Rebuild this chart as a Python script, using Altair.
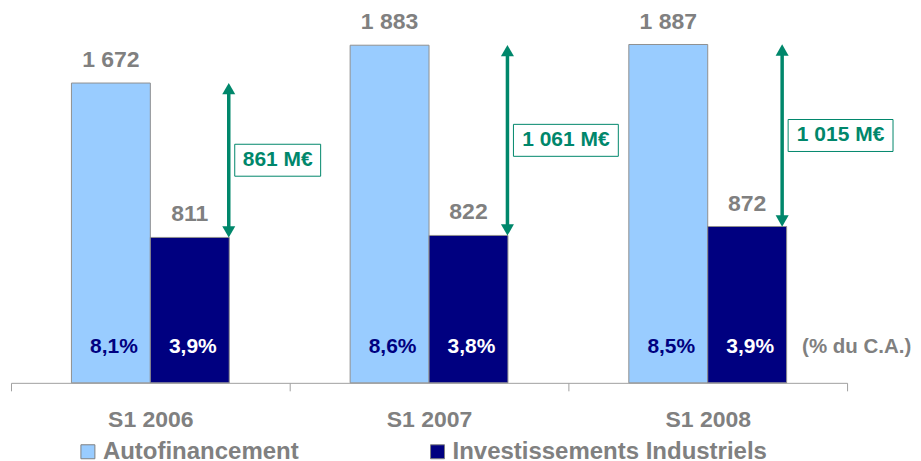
import altair as alt
import pandas as pd

# ---- data ----
groups = ["S1 2006", "S1 2007", "S1 2008"]
autofin = [1672, 1883, 1887]
invest = [811, 822, 872]
pct_autofin = ["8,1%", "8,6%", "8,5%"]
pct_invest = ["3,9%", "3,8%", "3,9%"]
gap_labels = ["861 M€", "1 061 M€", "1 015 M€"]
series_names = ["Autofinancement", "Investissements Industriels"]
unit_note = "(% du C.A.)"

# ---- styles ----
LIGHT = "#99CCFF"
NAVY = "#000080"
GREEN = "#00876B"
GRAY = "#808080"
FONT = "Liberation Sans"
box_w = [86, 105, 105]
box_h = 32
box_dy = [-7, -13, -13]
arrow_dx = [218, 218, 214]   # offset from band start (pixels)
NOTE_DX = 234

def fmt(v):
    return f"{v:,}".replace(",", " ")

rows = []
for g, a, i, pa, pi in zip(groups, autofin, invest, pct_autofin, pct_invest):
    rows.append({"group": g, "series": series_names[0], "value": a,
                 "label": fmt(a), "pct": pa})
    rows.append({"group": g, "series": series_names[1], "value": i,
                 "label": fmt(i), "pct": pi})
bars_df = pd.DataFrame(rows)

arr_rows = []
for g, a, i, lab, w, dy, adx in zip(groups, autofin, invest, gap_labels, box_w,
                                    box_dy, arrow_dx):
    h = round(box_h / w, 4)
    arr_rows.append({
        "group": g, "top": a, "bottom": i, "mid": (a + i) / 2, "gap": lab,
        "shape": f"M-1,-{h}L1,-{h}L1,{h}L-1,{h}Z",
        "size": w * w,
        "adx": adx,
        "boxoff": adx + 6 + w / 2,
        "dy": dy,
    })
arr_df = pd.DataFrame(arr_rows)

note_df = pd.DataFrame({"group": [groups[-1]], "note": [unit_note], "y": [0]})

x_enc = alt.X("group:N", sort=groups,
              scale=alt.Scale(paddingInner=0, paddingOuter=0),
              axis=alt.Axis(title=None, labelAngle=0, labelFontSize=23,
                            labelFontWeight="bold", labelColor=GRAY, labelFont=FONT,
                            domainColor="#A0A0A0", tickColor="#A0A0A0",
                            tickSize=8, tickBand="extent", labelPadding=18,
                            grid=False))
y_scale = alt.Scale(domain=[0, 2000])
xoff = alt.XOffset("series:N", sort=series_names,
                   scale=alt.Scale(paddingInner=0, paddingOuter=0.766))

base = alt.Chart(bars_df)

bars = base.mark_bar(stroke="#909090", strokeWidth=1).encode(
    x=x_enc,
    xOffset=xoff,
    y=alt.Y("value:Q", scale=y_scale, axis=None),
    color=alt.Color("series:N", sort=series_names,
                    scale=alt.Scale(domain=series_names, range=[LIGHT, NAVY]),
                    legend=alt.Legend(title=None, orient="none", direction="horizontal",
                                      legendX=65, legendY=416, padding=0,
                                      symbolType="square", symbolSize=196,
                                      symbolStrokeColor=GRAY, symbolStrokeWidth=1,
                                      labelFontSize=24, labelFontWeight="bold",
                                      labelColor=GRAY, labelFont=FONT, labelLimit=500,
                                      columnPadding=126, labelOffset=3)),
)

value_labels = base.mark_text(baseline="alphabetic", dy=-16, fontSize=23,
                              fontWeight="bold", color=GRAY, font=FONT).encode(
    x=alt.X("group:N", sort=groups),
    xOffset=xoff,
    y=alt.Y("value:Q", scale=y_scale),
    text="label:N",
)

pct_labels = base.mark_text(baseline="alphabetic", dy=-30, dx=3, fontSize=21,
                            fontWeight="bold", font=FONT).encode(
    x=alt.X("group:N", sort=groups),
    xOffset=xoff,
    y=alt.YDatum(0, scale=y_scale),
    text="pct:N",
    color=alt.Color("series:N", scale=alt.Scale(domain=series_names,
                                                range=[NAVY, "white"]),
                    legend=None),
)

abase = alt.Chart(arr_df)
arrow_line = abase.mark_rule(color=GREEN, strokeWidth=3.5, yOffset=8, y2Offset=-8).encode(
    x=alt.X("group:N", sort=groups),
    xOffset=alt.XOffset("adx:Q", scale=None),
    y=alt.Y("top:Q", scale=y_scale),
    y2="bottom:Q",
)
head_up = abase.mark_point(shape="triangle-up", filled=True, color=GREEN,
                           size=170, opacity=1, yOffset=5.5).encode(
    x=alt.X("group:N", sort=groups),
    xOffset=alt.XOffset("adx:Q", scale=None),
    y=alt.Y("top:Q", scale=y_scale),
)
head_down = abase.mark_point(shape="triangle-down", filled=True, color=GREEN,
                             size=170, opacity=1, yOffset=-5.5).encode(
    x=alt.X("group:N", sort=groups),
    xOffset=alt.XOffset("adx:Q", scale=None),
    y=alt.Y("bottom:Q", scale=y_scale),
)
boxes = abase.mark_point(filled=True, fill="white", stroke=GREEN, strokeWidth=1,
                         opacity=1).encode(
    x=alt.X("group:N", sort=groups),
    xOffset=alt.XOffset("boxoff:Q", scale=None),
    y=alt.Y("mid:Q", scale=y_scale),
    yOffset=alt.YOffset("dy:Q", scale=None),
    shape=alt.Shape("shape:N", scale=None),
    size=alt.Size("size:Q", scale=None),
)
box_text = abase.mark_text(fontSize=21, fontWeight="bold", color=GREEN, font=FONT,
                           baseline="middle", align="center").encode(
    x=alt.X("group:N", sort=groups),
    xOffset=alt.XOffset("boxoff:Q", scale=None),
    y=alt.Y("mid:Q", scale=y_scale),
    yOffset=alt.YOffset("dy:Q", scale=None),
    text="gap:N",
)

note = alt.Chart(note_df).mark_text(align="left", baseline="alphabetic", dy=-30,
                                    fontSize=20.5, fontWeight="bold", color=GRAY,
                                    font=FONT).encode(
    x=alt.X("group:N", sort=groups),
    xOffset=alt.value(NOTE_DX),
    y=alt.Y("y:Q", scale=y_scale),
    text="note:N",
)

chart = alt.layer(bars, value_labels, pct_labels, arrow_line, head_up, head_down,
                  boxes, box_text, note).resolve_scale(
    color="independent", shape="independent", size="independent"
).properties(
    width=837, height=359,
    autosize=alt.AutoSizeParams(type="none"),
    padding={"left": 3, "top": 16, "right": 66, "bottom": 78},
    background="white",
).configure_view(stroke=None)

chart.save("out.html", embed_options={"renderer": "svg", "actions": False})
